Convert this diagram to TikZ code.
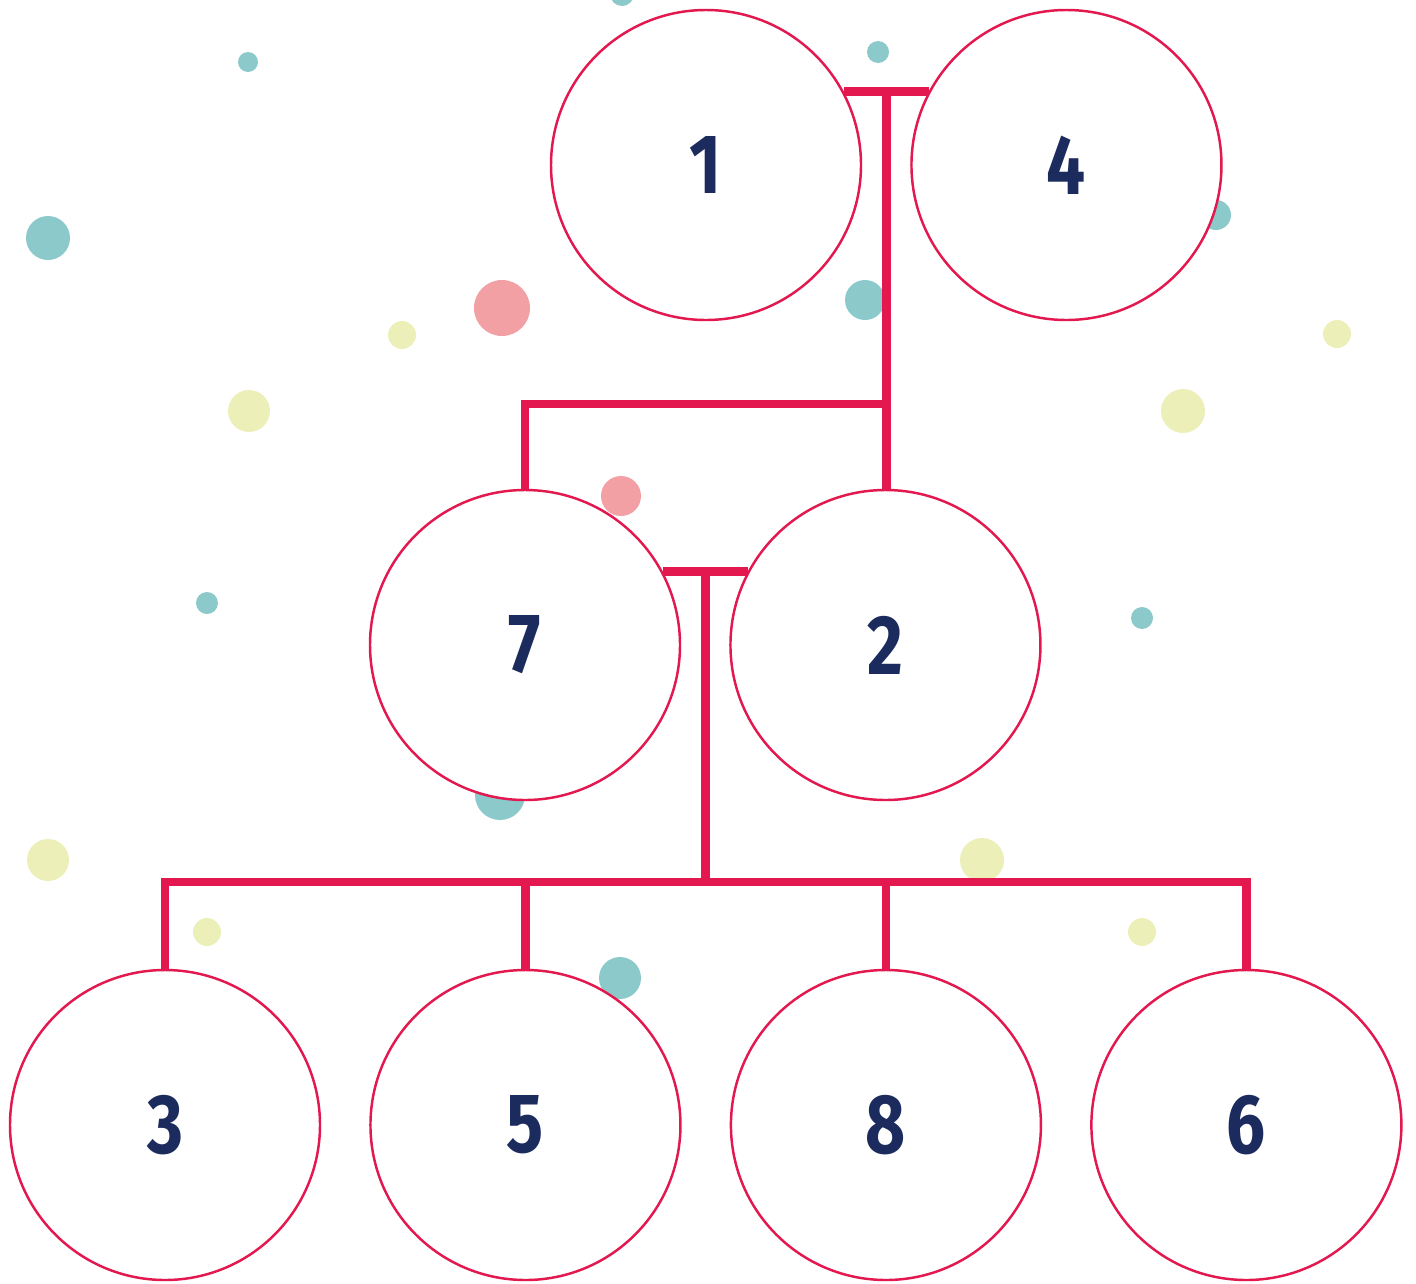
\documentclass[tikz,border=0pt]{standalone}
\usepackage{fontspec}
\usetikzlibrary{positioning,calc}
\newfontfamily\numfont{Fira Sans}[FakeStretch=0.82]
\definecolor{famred}{HTML}{E2184F}
\definecolor{famnavy}{HTML}{1C2B5E}
\definecolor{dotteal}{HTML}{8CC9CA}
\definecolor{dotpink}{HTML}{F2A0A4}
\definecolor{dotyellow}{HTML}{ECF0B8}
\tikzset{
  person/.style={circle,draw=famred,line width=1.4pt,fill=white,minimum size=6.2cm,inner sep=0pt,text=famnavy,font=\numfont\bfseries\fontsize{48}{48}\selectfont},
  link/.style={draw=famred,line width=5pt},
}

\begin{document}
\begin{tikzpicture}[x=0.2mm,y=-0.2mm,node distance=0.96cm]
    \useasboundingbox (0,0) rectangle (1416,1283);
    % background dots
    \foreach \x/\y/\r in {248/62/10,48/238/22,878/52/11,865/300/20,1216/215/15,207/603/11,1142/618/11,500/795/25,620/978/21,622/-6/12}
      \fill[dotteal] (\x,\y) circle (\r);
    \foreach \x/\y/\r in {502/308/28,621/496/20}
      \fill[dotpink] (\x,\y) circle (\r);
    \foreach \x/\y/\r in {402/335/14,249/411/21,1337/334/14,1183/411/22,48/860/21,982/860/22,207/932/14,1142/932/14}
      \fill[dotyellow] (\x,\y) circle (\r);
    % people
    \node[person] (n1) at (706,165) {1};
    \node[person,right=of n1] (n4) {4};
    \node[person] (n7) at (525,645) {7};
    \node[person,right=of n7] (n2) {2};
    \node[person] (n3) at (165,1125) {3};
    \node[person,right=of n3] (n5) {5};
    \node[person,right=of n5] (n8) {8};
    \node[person,right=of n8] (n6) {6};
    % couples and children
    \coordinate (m14) at ($(n1.28)!0.5!(n4.152)$);
    \coordinate (m72) at ($(n7.28)!0.5!(n2.152)$);
    \coordinate (j1) at (m14 |- 0,404);
    \coordinate (bus) at (m72 |- 0,882);
    \draw[link] (n1.28) -- (n4.152);
    \draw[link] (m14) -- (m14 |- n2.north);
    \draw[link] (n7.north) |- (j1);
    \draw[link] (n7.28) -- (n2.152);
    \draw[link] (m72) -- (bus);
    \draw[link] (n3.north) |- (n6.north |- bus) -- (n6.north);
    \draw[link] (n5.north) -- (n5.north |- bus);
    \draw[link] (n8.north) -- (n8.north |- bus);
  \end{tikzpicture}
\end{document}
